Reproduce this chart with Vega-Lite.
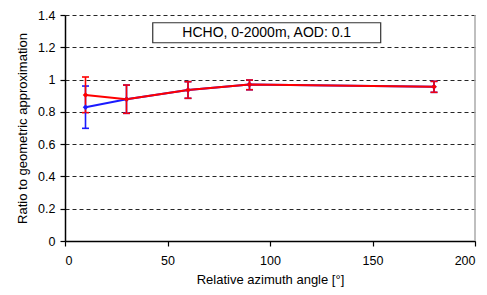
{
  "$schema": "https://vega.github.io/schema/vega-lite/v6.json",
  "width": 410,
  "height": 226,
  "autosize": "none",
  "padding": {"left": 65, "top": 15, "right": 12, "bottom": 54},
  "background": "white",
  "config": {
    "view": {"stroke": null},
    "font": "Liberation Sans",
    "axis": {
      "labelFont": "Liberation Sans",
      "titleFont": "Liberation Sans",
      "labelFontSize": 12.5,
      "titleFontSize": 13,
      "titleFontWeight": "normal",
      "labelColor": "#000",
      "titleColor": "#000",
      "domainColor": "#000",
      "domainWidth": 1.5,
      "tickColor": "#000",
      "tickWidth": 1.2,
      "tickSize": 5,
      "labelOverlap": false
    },
    "axisX": {"grid": false, "labelPadding": 8, "titlePadding": 7},
    "axisY": {"grid": true, "gridDash": [4, 3], "gridColor": "#000", "gridOpacity": 0.85, "gridWidth": 1, "labelPadding": 5, "titlePadding": 8}
  },
  "datasets": {
    "pts": [
      {"series": "A", "x": 10, "y": 0.828, "lo": 0.698, "hi": 0.96},
      {"series": "A", "x": 30, "y": 0.878, "lo": 0.791, "hi": 0.966},
      {"series": "A", "x": 60, "y": 0.935, "lo": 0.884, "hi": 0.987},
      {"series": "A", "x": 90, "y": 0.969, "lo": 0.937, "hi": 0.997},
      {"series": "A", "x": 180, "y": 0.955, "lo": 0.921, "hi": 0.989},
      {"series": "B", "x": 10, "y": 0.905, "lo": 0.795, "hi": 1.016},
      {"series": "B", "x": 30, "y": 0.878, "lo": 0.791, "hi": 0.966},
      {"series": "B", "x": 60, "y": 0.935, "lo": 0.884, "hi": 0.987},
      {"series": "B", "x": 90, "y": 0.969, "lo": 0.937, "hi": 0.997},
      {"series": "B", "x": 180, "y": 0.955, "lo": 0.921, "hi": 0.989}
    ]
  },
  "layer": [
    {
      "data": {"values": [{"x": 200, "y1": 0, "y2": 1.4}]},
      "mark": {"type": "rule", "color": "#aaaaaa", "strokeWidth": 1.5},
      "encoding": {
        "x": {"field": "x", "type": "quantitative", "scale": {"domain": [0, 200]},
          "axis": {"values": [0, 50, 100, 150, 200], "title": "Relative azimuth angle [°]"}},
        "y": {"field": "y1", "type": "quantitative", "scale": {"domain": [0, 1.4], "nice": false},
          "axis": {"values": [0, 0.2, 0.4, 0.6, 0.8, 1, 1.2, 1.4], "format": "~g", "title": "Ratio to geometric approximation"}},
        "y2": {"field": "y2"}
      }
    },
    {
      "data": {"values": [{"x1": 42.8, "x2": 154, "y1": 1.228, "y2": 1.352, "xc": 98.4, "yc": 1.29, "label": "HCHO, 0-2000m, AOD: 0.1"}]},
      "layer": [
        {
          "mark": {"type": "rect", "fill": "white", "stroke": "#333", "strokeWidth": 1.2},
          "encoding": {
            "x": {"field": "x1", "type": "quantitative", "axis": {"values": [0, 50, 100, 150, 200], "title": "Relative azimuth angle [°]"}},
            "x2": {"field": "x2"},
            "y": {"field": "y1", "type": "quantitative", "axis": {"values": [0, 0.2, 0.4, 0.6, 0.8, 1, 1.2, 1.4], "format": "~g", "title": "Ratio to geometric approximation"}},
            "y2": {"field": "y2"}
          }
        },
        {
          "mark": {"type": "text", "fontSize": 14, "font": "Liberation Sans", "color": "#000", "baseline": "middle", "align": "center"},
          "encoding": {
            "x": {"field": "xc", "type": "quantitative", "axis": {"values": [0, 50, 100, 150, 200], "title": "Relative azimuth angle [°]"}},
            "y": {"field": "yc", "type": "quantitative", "axis": {"values": [0, 0.2, 0.4, 0.6, 0.8, 1, 1.2, 1.4], "format": "~g", "title": "Ratio to geometric approximation"}},
            "text": {"field": "label"}
          }
        }
      ]
    },
    {
      "data": {"name": "pts"},
      "mark": {"type": "errorbar", "ticks": {"size": 7, "opacity": 1}, "rule": {"opacity": 1}, "thickness": 1.6, "opacity": 1},
      "encoding": {
        "x": {"field": "x", "type": "quantitative", "axis": {"values": [0, 50, 100, 150, 200], "title": "Relative azimuth angle [°]"}},
        "y": {"field": "lo", "type": "quantitative", "axis": {"values": [0, 0.2, 0.4, 0.6, 0.8, 1, 1.2, 1.4], "format": "~g", "title": "Ratio to geometric approximation"}},
        "y2": {"field": "hi"},
        "color": {"field": "series", "type": "nominal", "scale": {"domain": ["A", "B"], "range": ["#1a1aff", "#ff0000"]}, "legend": null}
      }
    },
    {
      "data": {"name": "pts"},
      "mark": {"type": "line", "strokeWidth": 2},
      "encoding": {
        "x": {"field": "x", "type": "quantitative", "axis": {"values": [0, 50, 100, 150, 200], "title": "Relative azimuth angle [°]"}},
        "y": {"field": "y", "type": "quantitative", "axis": {"values": [0, 0.2, 0.4, 0.6, 0.8, 1, 1.2, 1.4], "format": "~g", "title": "Ratio to geometric approximation"}},
        "color": {"field": "series", "type": "nominal", "legend": null}
      }
    },
    {
      "data": {"name": "pts"},
      "mark": {"type": "point", "shape": "diamond", "filled": true, "size": 30, "opacity": 1},
      "encoding": {
        "x": {"field": "x", "type": "quantitative", "axis": {"values": [0, 50, 100, 150, 200], "title": "Relative azimuth angle [°]"}},
        "y": {"field": "y", "type": "quantitative", "axis": {"values": [0, 0.2, 0.4, 0.6, 0.8, 1, 1.2, 1.4], "format": "~g", "title": "Ratio to geometric approximation"}},
        "color": {"field": "series", "type": "nominal", "legend": null}
      }
    }
  ]
}
